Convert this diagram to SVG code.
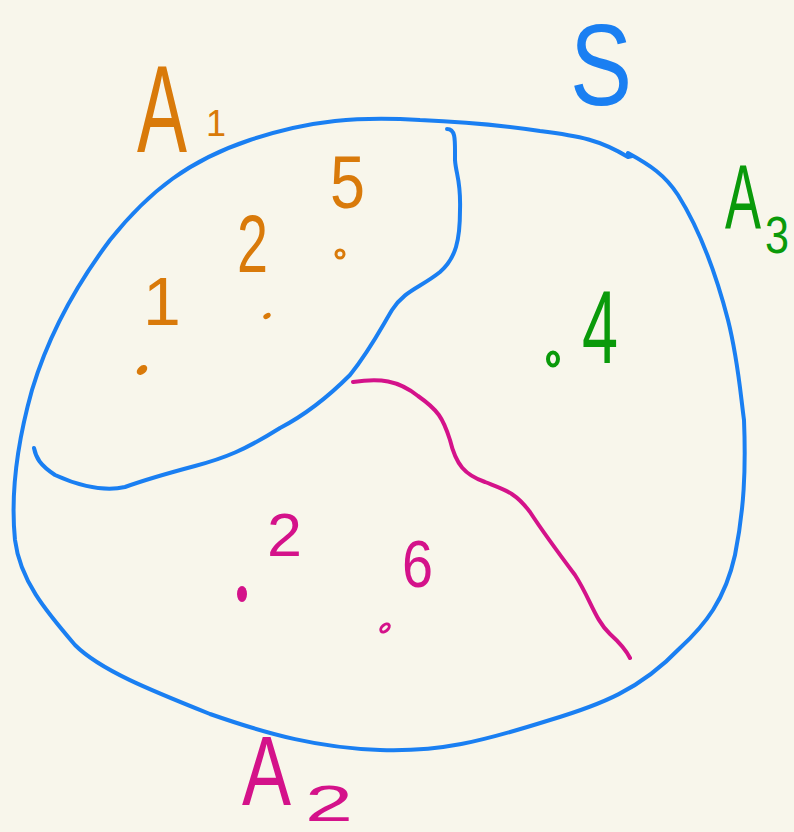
<svg xmlns="http://www.w3.org/2000/svg" width="794" height="832" viewBox="0 0 794 832">
<style>
.ln{fill:none;stroke-width:4;stroke-linecap:round;stroke-linejoin:round}
.b{stroke:#1a7ff2}.m{stroke:#d4128a}
.t{font-family:"Liberation Sans","DejaVu Sans",sans-serif}
.o{fill:#d97a0a}.g{fill:#0a9a0a}.mf{fill:#d4128a}.bf{fill:#1a7ff2}
</style>
<rect width="794" height="832" fill="#f8f6eb"/>
<g id="connectors">
<path class="ln b" d="M628,153 C650,165 665,175 678,195 C700,230 715,270 728,320 C738,360 740,390 744,420 C746,470 744,510 735,555 C725,600 705,625 680,648 C640,690 600,705 550,720 C480,742 440,752 380,750 C320,748 270,735 210,714 C150,690 100,670 75,645 C45,610 20,580 15,540 C10,490 18,440 32,390 C50,330 80,280 110,240 C150,190 190,160 250,140 C310,120 360,116 420,120 C470,122 500,125 540,131 C580,136 600,140 628,157 L632,156"/>
<path class="ln b" d="M447,129 C456,129 455,140 455,160 C456,175 461,180 460,210 C460,240 456,258 440,272 C420,288 405,290 392,310 C380,330 370,350 350,375 C325,400 305,415 280,428 C245,450 225,458 195,466 C165,474 150,478 125,487 C100,493 70,482 55,475 C40,465 36,458 34,448"/>
<path class="ln m" d="M353,382 C380,378 398,380 418,396 C438,410 443,418 450,440 C456,465 465,475 485,482 C505,490 515,492 530,512 C545,535 560,555 575,575 C590,598 595,620 610,634 C620,643 626,650 630,658"/>
</g>
<g id="label-S"><text class="t bf" x="570" y="105" font-size="115" textLength="62" lengthAdjust="spacingAndGlyphs">S</text></g>
<g id="label-A1">
<text class="t o" x="137" y="152" font-size="125" textLength="50" lengthAdjust="spacingAndGlyphs">A</text>
<text class="t o" x="216" y="136" font-size="36" text-anchor="middle">1</text>
</g>
<g id="label-A3">
<text class="t g" x="725" y="228" font-size="90" textLength="36" lengthAdjust="spacingAndGlyphs">A</text>
<text class="t g" x="765" y="253" font-size="52" textLength="24" lengthAdjust="spacingAndGlyphs">3</text>
</g>
<g id="label-A2">
<text class="t mf" x="242" y="805" font-size="98" textLength="49" lengthAdjust="spacingAndGlyphs">A</text>
<text class="t mf" x="305" y="821" font-size="50" textLength="48" lengthAdjust="spacingAndGlyphs">2</text>
</g>
<g id="point-5">
<text class="t o" x="330" y="208" font-size="74" textLength="35" lengthAdjust="spacingAndGlyphs">5</text>
<ellipse cx="340" cy="254" rx="4" ry="4" fill="none" stroke="#d97a0a" stroke-width="3"/>
</g>
<g id="point-2a">
<text class="t o" x="237" y="272" font-size="82" textLength="31" lengthAdjust="spacingAndGlyphs">2</text>
<ellipse cx="267" cy="316" rx="4" ry="2.5" transform="rotate(-30 267 316)" class="o"/>
</g>
<g id="point-1">
<text class="t o" x="162" y="325" font-size="68" text-anchor="middle">1</text>
<ellipse cx="142" cy="370" rx="6" ry="4" transform="rotate(-40 142 370)" class="o"/>
</g>
<g id="point-4">
<text class="t g" x="582" y="363" font-size="104" textLength="36" lengthAdjust="spacingAndGlyphs">4</text>
<ellipse cx="553" cy="359" rx="5" ry="6.5" fill="none" stroke="#0a9a0a" stroke-width="4"/>
</g>
<g id="point-2b">
<text class="t mf" x="267" y="556" font-size="61" textLength="35" lengthAdjust="spacingAndGlyphs">2</text>
<ellipse cx="242" cy="594" rx="5" ry="8" class="mf"/>
</g>
<g id="point-6">
<text class="t mf" x="402" y="587" font-size="67" textLength="31" lengthAdjust="spacingAndGlyphs">6</text>
<ellipse cx="385" cy="628" rx="5" ry="3" transform="rotate(-40 385 628)" fill="none" stroke="#d4128a" stroke-width="3"/>
</g>
</svg>
